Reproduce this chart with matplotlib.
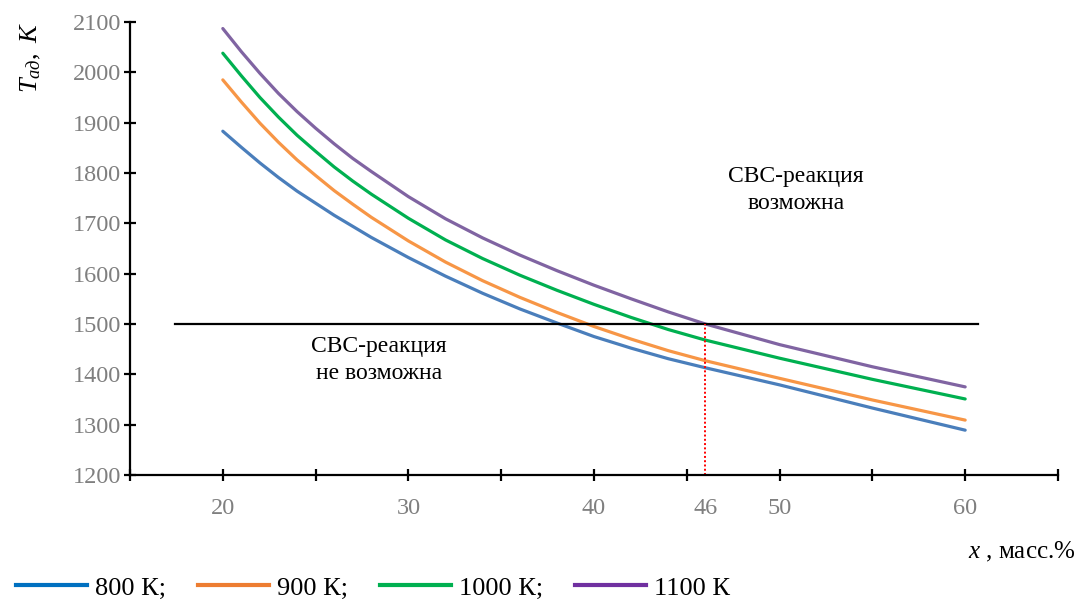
import numpy as np
import matplotlib
matplotlib.use("Agg")
import matplotlib.pyplot as plt
from matplotlib.lines import Line2D
from matplotlib.transforms import offset_copy

plt.rcParams['font.family'] = ['Liberation Serif', 'DejaVu Serif']
plt.rcParams['mathtext.fontset'] = 'custom'
plt.rcParams['mathtext.it'] = 'Liberation Serif:italic'
plt.rcParams['mathtext.rm'] = 'Liberation Serif'

# x, mass.% and adiabatic temperature (K) for each initial temperature
x = [20, 21, 22, 23, 24, 25, 26, 27, 28, 30, 32, 34, 36, 38, 40, 42, 44, 46, 50, 55, 60]
t800 = [1883, 1851, 1820, 1791, 1764, 1740, 1716, 1694, 1672, 1632, 1595,
        1561, 1530, 1502, 1475, 1452, 1431, 1413, 1379, 1333, 1289]
t900 = [1985, 1941, 1899, 1861, 1826, 1795, 1765, 1738, 1712, 1665, 1623,
        1586, 1553, 1523, 1495, 1470, 1447, 1427, 1392, 1349, 1309]
t1000 = [2038, 1993, 1950, 1911, 1875, 1843, 1812, 1784, 1758, 1710, 1667,
         1630, 1597, 1567, 1539, 1513, 1489, 1468, 1432, 1390, 1351]
t1100 = [2087, 2041, 1998, 1958, 1922, 1889, 1858, 1829, 1803, 1753, 1709,
         1671, 1637, 1606, 1577, 1550, 1524, 1500, 1459, 1415, 1375]

series = [t800, t900, t1000, t1100]
labels = ['800 К;', '900 К;', '1000 К;', '1100 К']
line_colors = ['#4a7ebb', '#f79646', '#00b050', '#8064a2']
legend_colors = ['#0070c0', '#ed7d31', '#00b050', '#7030a0']

t_limit = 1500
x_crit = 46
x_ticks = [15, 20, 25, 30, 35, 40, 45, 50, 55, 60, 65]
x_labeled = [20, 30, 40, 50, 60]

fig = plt.figure(figsize=(10.79, 6.01), dpi=100)
ax = fig.add_axes([0.1205, 0.2097, 0.860, 0.7537])

for vals, c in zip(series, line_colors):
    ax.plot(x, vals, color=c, lw=2.3, solid_capstyle='round', solid_joinstyle='round')

ax.plot([17.45, 60.7], [t_limit, t_limit], color='black', lw=1.6)
ax.plot([x_crit, x_crit], [1200, t_limit], color='red', lw=1.4, linestyle=(0, (1, 1.2)))

ax.set_xlim(15, 65)
ax.set_ylim(1200, 2100)
ax.set_xticks(x_ticks)
ax.set_xticklabels([str(v) if v in x_labeled else '' for v in x_ticks])
ax.set_yticks(np.arange(1200, 2101, 100))
for s in ['top', 'right']:
    ax.spines[s].set_visible(False)
for s in ['left', 'bottom']:
    ax.spines[s].set_linewidth(1.6)
ax.tick_params(axis='both', direction='inout', length=9, width=1.6,
               labelsize=17.5, labelcolor='#7f7f7f')
ax.tick_params(axis='x', pad=12)
ax.tick_params(axis='y', pad=2)

# extra label for the critical composition (no tick mark)
lab_tr = offset_copy(ax.transData, fig=fig, x=0, y=-16.5, units='points')
ax.text(x_crit, 1200, str(x_crit), transform=lab_tr, ha='center', va='top',
        fontsize=17.5, color='#7f7f7f')

ax.text(50.9, 1766, 'СВС-реакция\nвозможна', ha='center', va='center',
        fontsize=17, linespacing=1.35)
ax.text(28.4, 1428, 'СВС-реакция\nне возможна', ha='center', va='center',
        fontsize=17, linespacing=1.35)

fig.text(0.029, 0.905, r'$T_{ад},\ K$', rotation=90, ha='center', va='center', fontsize=19)
fig.text(0.997, 0.082, r'$x$ , масс.%', ha='right', va='center', fontsize=18)

handles = [Line2D([0], [0], color=c, lw=3) for c in legend_colors]
fig.legend(handles, labels, loc='center left', bbox_to_anchor=(0.005, 0.022),
           ncol=4, frameon=False, fontsize=19, handlelength=2.7,
           handletextpad=0.3, columnspacing=1.2, borderaxespad=0)

fig.savefig('out.png', dpi=100)
